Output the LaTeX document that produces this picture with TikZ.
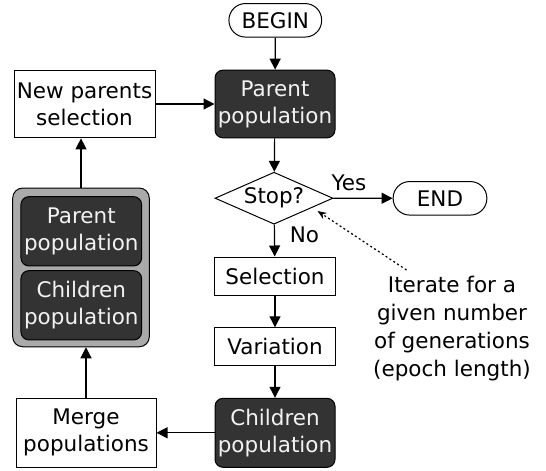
\documentclass[tikz,border=0pt]{standalone}
\usepackage{fontspec}
\setmainfont{DejaVu Sans}
\usetikzlibrary{shapes.geometric,arrows.meta}
\definecolor{darkfill}{HTML}{333333}
\definecolor{lighttext}{HTML}{F2F2F2}
\definecolor{contfill}{HTML}{AAAAAA}
\begin{document}
\begin{tikzpicture}[x=1pt,y=-1pt,
  every node/.style={font=\fontsize{21.5}{27}\selectfont, inner sep=0pt, align=center},
  box/.style={draw=black, line width=1pt, fill=white, rectangle},
  darkbox/.style={draw=black, line width=1pt, fill=darkfill, text=lighttext, rectangle, rounded corners=8pt, minimum width=120pt, minimum height=68pt},
  pill/.style={draw=black, line width=1pt, fill=white, rectangle, rounded corners=16.5pt, minimum height=33.5pt},
  arr/.style={draw=black, line width=1.2pt, -{Triangle[length=11pt,width=11pt]}},
  note/.style={draw=black, line width=1.2pt, dash pattern=on 2pt off 2.6pt, -{Stealth[length=9pt,width=7pt]}}
]
\useasboundingbox (0,0) rectangle (546,471);

% container
\node[draw=black, line width=1pt, fill=contfill, rounded corners=10pt, minimum width=136.6pt, minimum height=158.7pt] (cont) at (81,267.4) {};
\node[darkbox, minimum width=120.7pt, minimum height=69.3pt] (ip) at (81.3,231.3) {Parent\\population};
\node[darkbox, minimum width=120.7pt, minimum height=69.3pt] (ic) at (81.3,305.3) {Children\\population};

\node[pill, minimum width=92.7pt] (begin) at (275.3,20.3) {BEGIN};
\node[darkbox, minimum height=67.7pt] (parent) at (275,104) {Parent\\population};
\node[box, minimum width=141pt, minimum height=67.7pt] (newp) at (84.5,104) {New parents\\selection};
\node[draw=black, line width=1pt, fill=white, diamond, aspect=2.27, minimum width=118pt, minimum height=52pt] (stop) at (274,198.2) {Stop?};
\node[pill, minimum width=93.7pt] (end) at (440,198.3) {END};
\node[box, minimum width=121pt, minimum height=38pt] (sel) at (275,276) {Selection};
\node[box, minimum width=121pt, minimum height=38pt] (var) at (275,346.8) {Variation};
\node[darkbox, minimum height=69pt] (child) at (275,432.8) {Children\\population};
\node[box, minimum width=140pt, minimum height=69pt] (merge) at (86,432.8) {Merge\\populations};

\node (yes) at (349,182.5) {Yes};
\node (no) at (304.5,235) {No};
\node[font=\fontsize{21.5}{28}\selectfont] (iter) at (452,329) {Iterate for a\\given number\\of generations\\(epoch length)};

\draw[arr] (begin) -- (parent);
\draw[arr] (newp) -- (parent);
\draw[arr] (parent) -- (stop);
\draw[arr] (stop) -- (end);
\draw[arr] (stop) -- (sel);
\draw[arr] (sel) -- (var);
\draw[arr] (var) -- (child);
\draw[arr] (child) -- (merge);
\draw[arr] (merge.north) -- (merge.north |- cont.south);
\draw[arr] (cont.north) -- (cont.north |- newp.south);

\coordinate (ntail) at (406.5,270);
\coordinate (ntip) at (317.5,211);
\draw[note] (ntail) -- (ntip);
\end{tikzpicture}
\end{document}
